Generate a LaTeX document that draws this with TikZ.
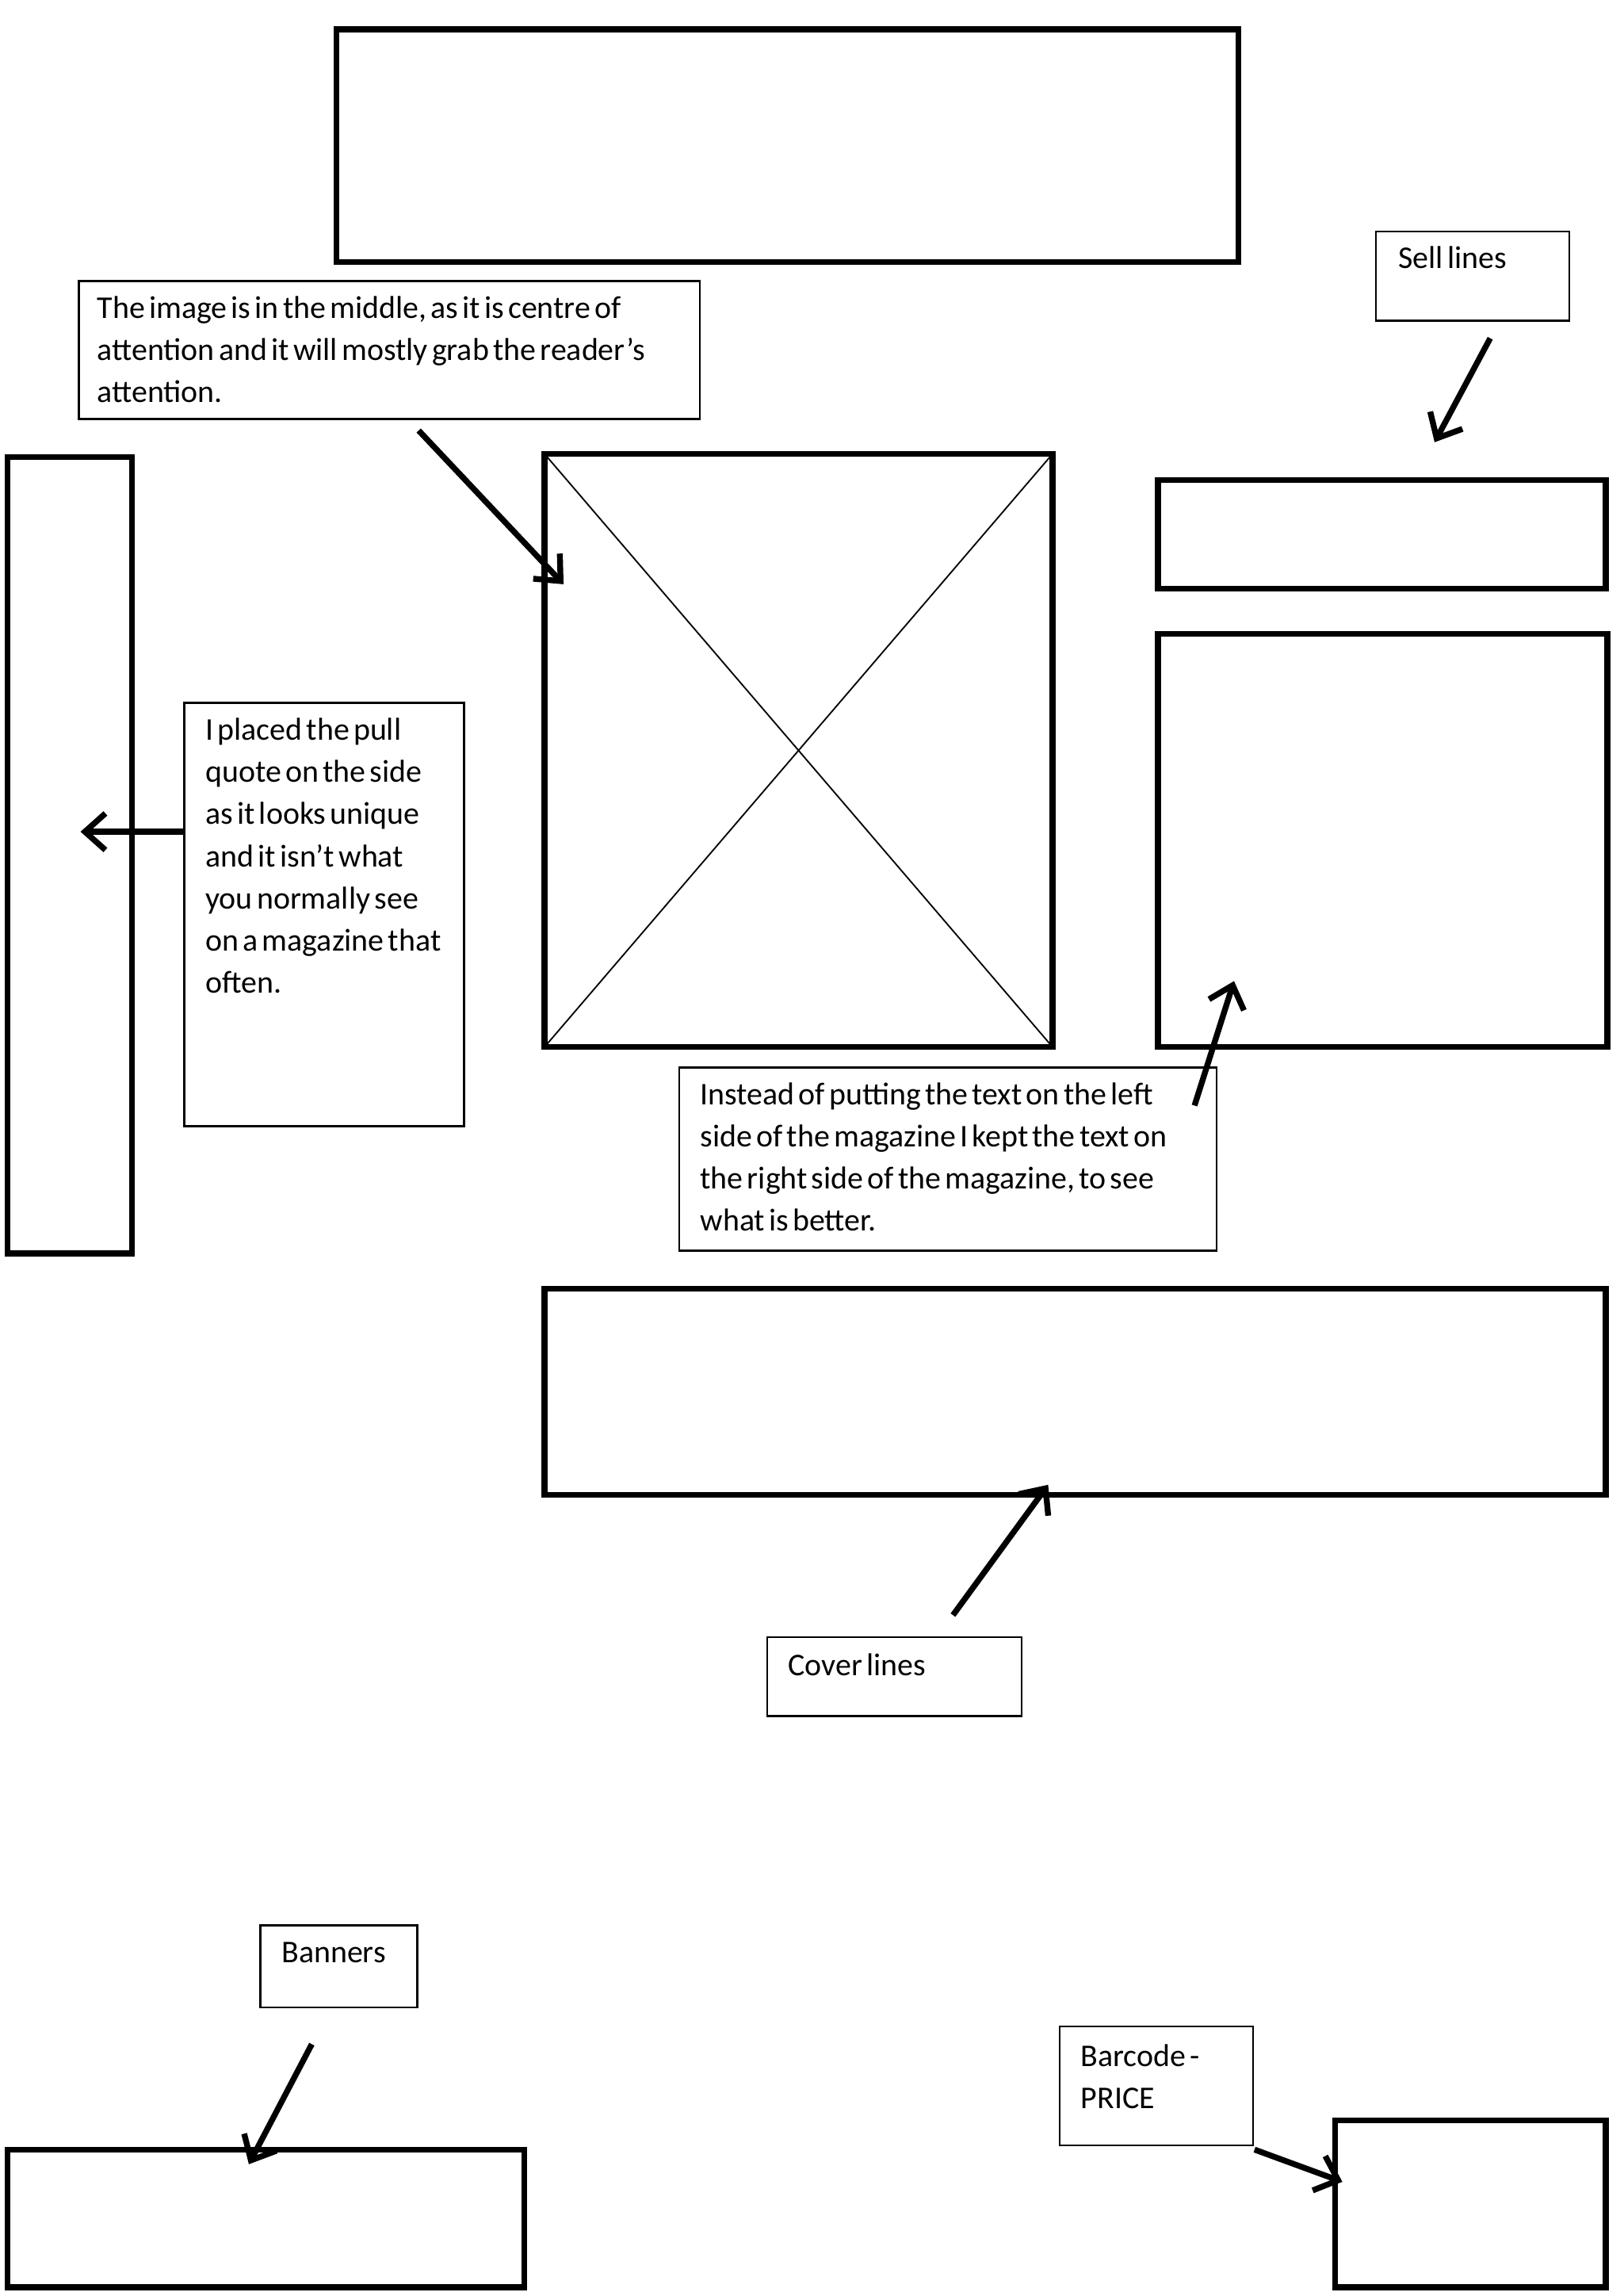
\documentclass[tikz,border=0pt]{standalone}
\usepackage{fontspec}
\setmainfont{Carlito}[WordSpace=0.58]
\usetikzlibrary{arrows.meta}
\newcommand\boxnode[6]{\node[#2, minimum width={(#5-#3)*0.5pt}, minimum height={(#6-#4)*0.5pt}] (#1) at ({(#3+#5)/2},{(#4+#6)/2}) {};}
\begin{document}
\begin{tikzpicture}[x=0.5pt,y=-0.5pt,
 frame/.style={draw=black, line width=2pt, inner sep=0pt, outer sep=0pt},
 note/.style={draw=black, line width=0.7pt, inner sep=0pt, outer sep=0pt},
 txt/.style={anchor=north west, inner sep=0pt, align=left, font=\fontsize{10.8}{14.4}\selectfont},
 arr/.style={line width=2pt, -{Straight Barb[length=7pt,width=12.5pt,line width=2pt]}}
]
\useasboundingbox (0,0) rectangle (1109,1568);
% thick layout frames
\boxnode{title}{frame}{230}{20}{846}{179}
\boxnode{pull}{frame}{5}{312}{90}{856}
\boxnode{img}{frame}{372}{310}{719}{715}
\boxnode{sellbox}{frame}{791}{328}{1097}{402}
\boxnode{textarea}{frame}{791}{433}{1098}{715}
\boxnode{cover}{frame}{372}{880}{1097}{1021}
\boxnode{banner}{frame}{5}{1468}{358}{1562}
\boxnode{barcode}{frame}{912}{1448}{1097}{1562}
\draw[line width=0.5pt] (img.north west) -- (img.south east);
\draw[line width=0.5pt] (img.north east) -- (img.south west);
% annotation boxes
\boxnode{n1}{note}{54}{192}{478}{286}
\boxnode{n2}{note}{940}{158}{1072}{219}
\boxnode{n3}{note}{126}{480}{317}{769}
\boxnode{n4}{note}{464}{729}{831}{854}
\boxnode{n5}{note}{524}{1118}{698}{1172}
\boxnode{n6}{note}{178}{1315}{285}{1371}
\boxnode{n7}{note}{724}{1384}{856}{1465}
% texts
\node[txt] (t1) at (66,202) {The image is in the middle, as it is centre of\\attention and it will mostly grab the reader’s\\attention.};
\node[txt] (t2) at (955,168) {Sell lines};
\node[txt] (t3) at (140,490) {I placed the pull\\quote on the side\\as it looks unique\\and it isn’t what\\you normally see\\on a magazine that\\often.};
\node[txt] (t4) at (478,739) {Instead of putting the text on the left\\side of the magazine I kept the text on\\the right side of the magazine, to see\\what is better.};
\node[txt] (t5) at (538,1129) {Cover lines};
\node[txt] (t6) at (192,1326) {Banners};
\node[txt] (t7) at (738,1396) {Barcode -\\PRICE};
% arrow endpoints
\coordinate (a1s) at (286,294); \coordinate (a1e) at (385,399);
\coordinate (a2s) at (1018,231); \coordinate (a2e) at (980,302);
\coordinate (a3s) at (126,568); \coordinate (a3e) at (55,568);
\coordinate (a4s) at (816,755); \coordinate (a4e) at (843,670);
\coordinate (a5s) at (651,1103); \coordinate (a5e) at (716,1014);
\coordinate (a6s) at (213,1396); \coordinate (a6e) at (170,1478);
\coordinate (a7s) at (857,1468); \coordinate (a7e) at (917,1490);
\draw[arr] (a1s) -- (a1e);
\draw[arr] (a2s) -- (a2e);
\draw[arr] (a3s) -- (a3e);
\draw[arr] (a4s) -- (a4e);
\draw[arr] (a5s) -- (a5e);
\draw[arr] (a6s) -- (a6e);
\draw[arr] (a7s) -- (a7e);
\end{tikzpicture}
\end{document}
